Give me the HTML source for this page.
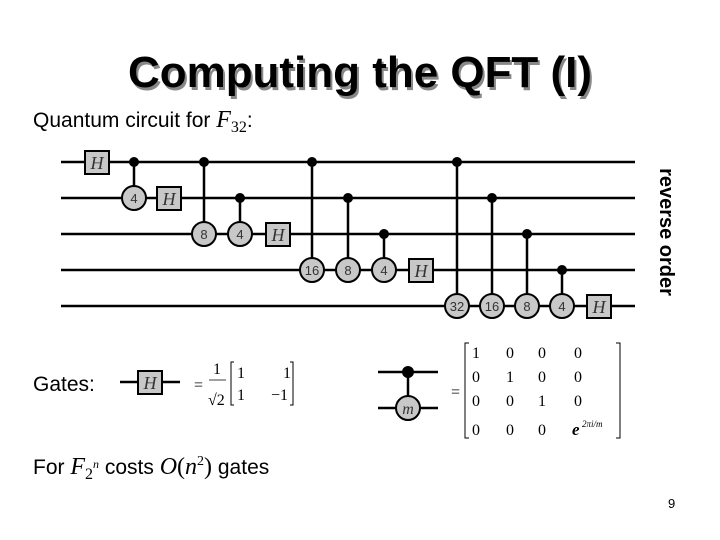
<!DOCTYPE html>
<html><head><meta charset="utf-8"><style>html,body{margin:0;padding:0;background:#fff}svg{display:block}</style></head><body>
<svg width="720" height="540" viewBox="0 0 720 540" xmlns="http://www.w3.org/2000/svg" font-family="Liberation Sans, sans-serif">
<rect width="720" height="540" fill="#fff"/>
<text x="362" y="90" font-size="44" font-weight="bold" fill="#888" text-anchor="middle" textLength="464" lengthAdjust="spacingAndGlyphs">Computing the QFT (I)</text>
<text x="360" y="87" font-size="44" font-weight="bold" fill="#000" text-anchor="middle" textLength="464" lengthAdjust="spacingAndGlyphs">Computing the QFT (I)</text>
<text x="33" y="127" font-size="21">Quantum circuit for <tspan font-family="Liberation Serif, serif" font-style="italic" font-size="24">F</tspan><tspan font-family="Liberation Serif, serif" font-size="16" dy="5">32</tspan><tspan dy="-5">:</tspan></text>
<g stroke="#000" stroke-width="2.5">
<line x1="61" y1="162" x2="635" y2="162"/><line x1="61" y1="198" x2="635" y2="198"/><line x1="61" y1="234" x2="635" y2="234"/><line x1="61" y1="270" x2="635" y2="270"/><line x1="61" y1="306" x2="635" y2="306"/>
<line x1="134" y1="162" x2="134" y2="198"/><line x1="204" y1="162" x2="204" y2="234"/><line x1="240" y1="198" x2="240" y2="234"/>
<line x1="312" y1="162" x2="312" y2="270"/><line x1="348" y1="198" x2="348" y2="270"/><line x1="384" y1="234" x2="384" y2="270"/>
<line x1="457" y1="162" x2="457" y2="306"/><line x1="492" y1="198" x2="492" y2="306"/><line x1="527" y1="234" x2="527" y2="306"/><line x1="562" y1="270" x2="562" y2="306"/>
</g>
<g fill="#000">
<circle cx="134" cy="162" r="5"/><circle cx="204" cy="162" r="5"/><circle cx="240" cy="198" r="5"/><circle cx="312" cy="162" r="5"/><circle cx="348" cy="198" r="5"/><circle cx="384" cy="234" r="5"/><circle cx="457" cy="162" r="5"/><circle cx="492" cy="198" r="5"/><circle cx="527" cy="234" r="5"/><circle cx="562" cy="270" r="5"/>
</g>
<g fill="#c8c8c8" stroke="#000" stroke-width="2">
<circle cx="134" cy="198" r="12"/><circle cx="204" cy="234" r="12"/><circle cx="240" cy="234" r="12"/><circle cx="312" cy="270" r="12"/><circle cx="348" cy="270" r="12"/><circle cx="384" cy="270" r="12"/><circle cx="457" cy="306" r="12"/><circle cx="492" cy="306" r="12"/><circle cx="527" cy="306" r="12"/><circle cx="562" cy="306" r="12"/>
<rect x="85" y="151" width="24" height="23"/><rect x="157" y="187" width="24" height="23"/><rect x="266" y="223" width="24" height="23"/><rect x="409" y="259" width="24" height="23"/><rect x="587" y="295" width="24" height="23"/>
</g>
<g font-size="13" fill="#333" text-anchor="middle">
<text x="134" y="203">4</text><text x="204" y="239">8</text><text x="240" y="239">4</text><text x="312" y="275">16</text><text x="348" y="275">8</text><text x="384" y="275">4</text><text x="457" y="311">32</text><text x="492" y="311">16</text><text x="527" y="311">8</text><text x="562" y="311">4</text>
</g>
<g font-family="Liberation Serif, serif" font-style="italic" font-size="18" fill="#333" text-anchor="middle">
<text x="97" y="169">H</text><text x="169" y="205">H</text><text x="278" y="241">H</text><text x="421" y="277">H</text><text x="599" y="313">H</text>
</g>
<text transform="translate(660,232) rotate(90)" font-size="20" font-weight="bold" text-anchor="middle">reverse order</text>
<text x="33" y="391" font-size="21">Gates:</text>
<line x1="120" y1="382" x2="180" y2="382" stroke="#000" stroke-width="2.5"/>
<rect x="138" y="371" width="24" height="23" fill="#c8c8c8" stroke="#000" stroke-width="2"/>
<text x="150" y="389" font-family="Liberation Serif, serif" font-style="italic" font-size="18" fill="#333" text-anchor="middle">H</text>
<g font-family="Liberation Serif, serif" font-size="16" fill="#000">
<text x="194" y="390">=</text>
<text x="217" y="374" text-anchor="middle">1</text>
<text x="208" y="405">√2</text>
<line x1="209" y1="380" x2="226" y2="380" stroke="#000" stroke-width="0.8"/>
<path d="M234 362 h-3 v43 h3 M290 362 h3 v43 h-3" fill="none" stroke="#000" stroke-width="1"/>
<text x="237" y="378">1</text><text x="283" y="378">1</text><text x="237" y="400">1</text><text x="271" y="400">−1</text>
</g>
<g stroke="#000" stroke-width="2.5">
<line x1="378" y1="372" x2="438" y2="372"/><line x1="378" y1="408" x2="438" y2="408"/><line x1="408" y1="372" x2="408" y2="408"/>
</g>
<circle cx="408" cy="372" r="6" fill="#000"/>
<circle cx="408" cy="408" r="12" fill="#c8c8c8" stroke="#000" stroke-width="2"/>
<text x="408" y="414" font-family="Liberation Serif, serif" font-style="italic" font-size="16" text-anchor="middle" fill="#333">m</text>
<g font-family="Liberation Serif, serif" font-size="16" fill="#000">
<text x="451" y="397">=</text>
<path d="M469 343 h-4 v95 h4 M616 343 h4 v95 h-4" fill="none" stroke="#000" stroke-width="1"/>
<text x="472" y="358">1</text><text x="506" y="358">0</text><text x="538" y="358">0</text><text x="574" y="358">0</text>
<text x="472" y="382">0</text><text x="506" y="382">1</text><text x="538" y="382">0</text><text x="574" y="382">0</text>
<text x="472" y="406">0</text><text x="506" y="406">0</text><text x="538" y="406">1</text><text x="574" y="406">0</text>
<text x="472" y="435">0</text><text x="506" y="435">0</text><text x="538" y="435">0</text>
<text x="572" y="435" font-style="italic" font-weight="bold" font-size="17">e</text><text x="582" y="427" font-style="italic" font-size="9">2πi/m</text>
</g>
<text x="33" y="474" font-size="21">For <tspan font-family="Liberation Serif, serif" font-style="italic" font-size="24">F</tspan><tspan font-family="Liberation Serif, serif" font-size="16" dy="5">2</tspan><tspan font-family="Liberation Serif, serif" font-style="italic" font-size="12" dy="-11">n</tspan><tspan dy="6"> costs </tspan><tspan font-family="Liberation Serif, serif" font-size="24"><tspan font-style="italic">O</tspan>(<tspan font-style="italic">n</tspan></tspan><tspan font-family="Liberation Serif, serif" font-size="14" dy="-9">2</tspan><tspan font-family="Liberation Serif, serif" font-size="24" dy="9">)</tspan> gates</text>
<text x="668" y="508" font-size="13">9</text>
</svg>
</body></html>
